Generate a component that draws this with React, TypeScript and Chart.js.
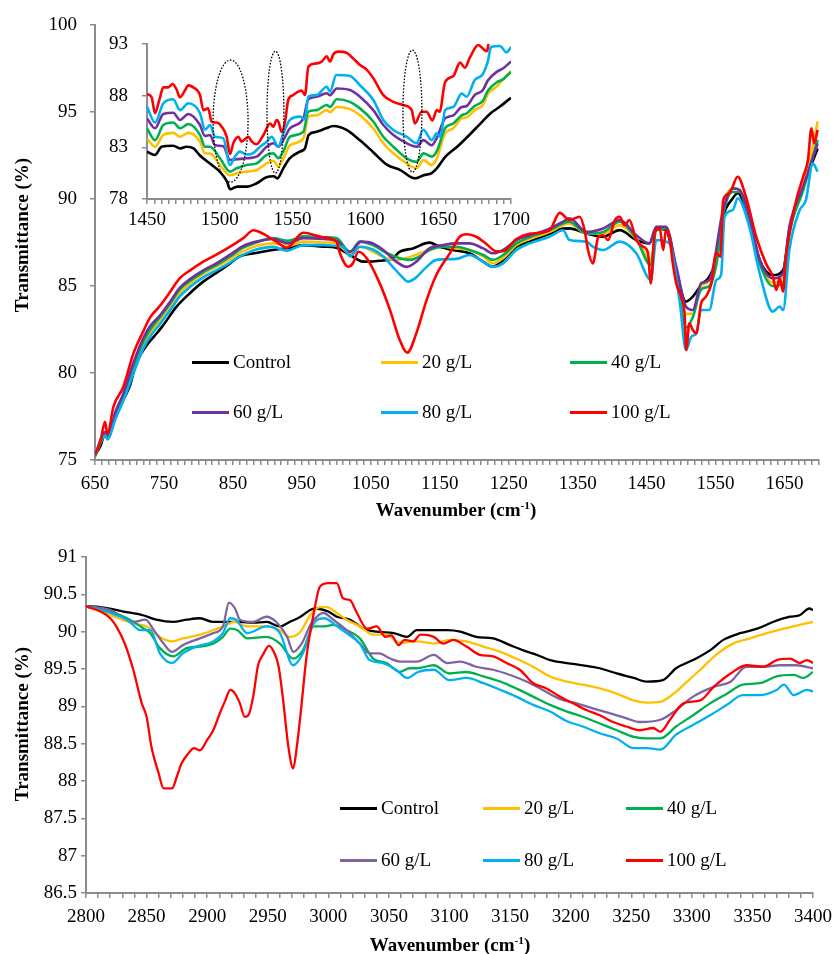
import React, { useEffect, useRef } from "react";
import { Chart, registerables } from "chart.js";

Chart.register(...registerables);

type Pt = [number, number];

// ---------- labels & colours ----------
const seriesLabels = ["Control", "20 g/L", "40 g/L", "60 g/L", "80 g/L", "100 g/L"];
const topColors = ["#000000", "#FFC000", "#00B050", "#7030A0", "#00B0F0", "#FF0000"];
const bottomColors = ["#000000", "#FFC000", "#00B050", "#8064A2", "#00B0F0", "#FF0000"];

// ---------- top panel (650-1700 cm-1) ----------
const mainControl: Pt[] = [[650,75.3],[658,75.8],[665,76.6],[672,76.7],[680,77.5],[691,78.45],[700,79.2],[710,80.6],[720,81.3],[727,81.7],[740,82.3],[749,82.75],[768,83.8],[788,84.6],[807,85.25],[826,85.75],[846,86.3],[860,86.7],[884,86.9],[908,87.07],[933,87.2],[952,87.35],[981,87.26],[1000,87.2],[1020,86.78],[1039,86.4],[1063,86.45],[1082,86.6],[1092,86.97],[1111,87.16],[1135,87.49],[1150,87.26],[1169,87.07],[1193,86.88],[1213,86.4],[1227,86.11],[1242,86.5],[1261,87.26],[1280,87.55],[1309,88.0],[1329,88.3],[1338,88.31],[1363,88.02],[1387,87.83],[1411,88.21],[1435,87.64],[1454,87.45],[1464,88.31],[1478,88.21],[1493,85.92],[1507,84.1],[1517,84.39],[1529,85.06],[1541,85.54],[1551,86.5],[1561,88.98],[1575,90.04],[1582,90.33],[1599,88.79],[1614,86.5],[1633,85.63],[1648,85.92],[1657,88.21],[1677,90.71],[1698,92.9]];
const main20: Pt[] = [[650,75.3],[665,76.5],[668,76.3],[680,77.6],[691,78.6],[705,80.1],[720,81.6],[730,82.3],[744,83.0],[759,83.8],[773,84.6],[788,85.15],[807,85.7],[826,86.1],[846,86.55],[865,87.0],[884,87.3],[908,87.45],[930,87.3],[952,87.55],[981,87.5],[1000,87.45],[1020,86.88],[1036,87.26],[1053,86.97],[1073,86.6],[1087,86.5],[1101,86.6],[1121,86.88],[1135,87.07],[1155,87.26],[1174,87.16],[1193,87.07],[1213,86.7],[1227,86.3],[1242,86.6],[1261,87.35],[1280,87.7],[1309,88.1],[1329,88.5],[1338,88.6],[1363,88.0],[1387,88.0],[1411,88.5],[1435,87.7],[1456,86.5],[1464,88.4],[1478,88.35],[1493,86.0],[1507,83.4],[1517,83.4],[1529,85.0],[1541,85.3],[1551,86.8],[1561,89.6],[1575,90.6],[1585,90.5],[1599,88.9],[1614,86.4],[1633,85.2],[1648,85.6],[1657,88.2],[1677,90.9],[1690,92.8],[1698,94.45]];
const main40: Pt[] = [[650,75.2],[665,76.4],[668,76.3],[680,77.7],[691,78.7],[705,80.3],[720,81.8],[730,82.5],[744,83.2],[759,84.0],[773,84.8],[788,85.3],[807,85.8],[826,86.2],[846,86.7],[865,87.2],[884,87.5],[908,87.75],[930,87.6],[952,87.85],[981,87.8],[1000,87.75],[1020,86.97],[1034,87.55],[1053,87.35],[1073,86.9],[1092,86.6],[1106,86.5],[1121,86.7],[1135,87.07],[1155,87.26],[1174,87.26],[1193,87.07],[1213,86.78],[1227,86.5],[1242,86.78],[1261,87.45],[1280,87.8],[1309,88.2],[1329,88.6],[1338,88.7],[1363,88.0],[1387,88.1],[1411,88.7],[1435,87.7],[1456,86.2],[1464,88.2],[1478,88.3],[1493,85.9],[1507,82.6],[1517,83.2],[1529,84.8],[1541,85.0],[1551,86.2],[1561,89.1],[1575,90.4],[1585,90.4],[1599,88.8],[1614,86.3],[1633,85.0],[1648,85.2],[1657,88.0],[1677,90.5],[1698,93.4]];
const main60: Pt[] = [[650,75.3],[665,76.6],[668,76.2],[680,77.8],[691,78.8],[705,80.5],[720,82.0],[730,82.7],[744,83.3],[759,84.1],[773,84.9],[788,85.4],[807,85.9],[826,86.3],[846,86.8],[865,87.3],[884,87.55],[908,87.7],[930,87.45],[952,87.75],[981,87.7],[1000,87.6],[1020,86.97],[1036,87.55],[1053,87.45],[1068,87.07],[1087,86.4],[1102,86.1],[1116,86.4],[1135,87.16],[1155,87.35],[1174,87.45],[1193,87.45],[1213,87.16],[1227,86.88],[1242,87.07],[1261,87.64],[1280,87.9],[1309,88.3],[1329,88.7],[1338,88.89],[1363,88.11],[1387,88.31],[1411,88.79],[1435,87.92],[1454,87.45],[1464,88.4],[1478,88.4],[1493,86.11],[1507,83.82],[1517,83.62],[1529,85.15],[1541,85.35],[1561,89.36],[1575,90.61],[1585,90.52],[1599,88.98],[1614,86.5],[1633,85.44],[1648,85.73],[1657,88.4],[1677,90.71],[1698,93.2]];
const main80: Pt[] = [[650,75.3],[665,76.4],[668,76.2],[680,77.4],[691,78.4],[705,79.9],[720,81.4],[730,82.1],[744,82.8],[759,83.6],[773,84.4],[788,84.95],[807,85.5],[826,85.9],[846,86.35],[865,86.8],[884,87.1],[908,87.25],[928,87.03],[952,87.35],[981,87.35],[1000,87.3],[1010,87.26],[1020,86.7],[1034,87.26],[1053,87.1],[1068,86.7],[1082,86.1],[1095,85.54],[1104,85.25],[1116,85.5],[1131,86.1],[1145,86.5],[1174,86.56],[1193,86.78],[1213,86.4],[1227,86.1],[1242,86.3],[1261,87.07],[1280,87.45],[1309,87.83],[1329,88.2],[1338,87.64],[1363,87.55],[1372,87.26],[1387,87.07],[1411,87.55],[1435,86.88],[1456,85.35],[1464,87.64],[1483,87.45],[1498,84.1],[1507,81.32],[1515,82.09],[1522,82.28],[1529,83.62],[1541,83.62],[1551,85.35],[1558,85.63],[1563,88.98],[1575,89.36],[1582,90.04],[1599,88.4],[1614,85.73],[1633,83.53],[1643,83.82],[1648,83.62],[1657,87.07],[1672,89.36],[1681,89.94],[1691,92.05],[1698,91.57]];
const main100: Pt[] = [[650,75.3],[658,76.1],[664.5,77.2],[668,76.5],[677,78.1],[691,79.2],[705.5,81.1],[720,82.4],[730,83.2],[744,83.85],[759,84.67],[773,85.45],[788,85.9],[807,86.4],[826,86.8],[846,87.26],[865,87.75],[880,88.2],[894,88.0],[913,87.55],[928,87.2],[952,88.06],[981,87.8],[1000,87.55],[1005,86.9],[1017,86.11],[1024,86.3],[1032,86.97],[1044,86.6],[1063,85.15],[1078,83.6],[1092,81.9],[1103,81.17],[1116,82.28],[1131,84.2],[1145,85.63],[1165,86.9],[1179,87.83],[1189,87.97],[1203,87.83],[1218,87.4],[1232,87.0],[1242,87.0],[1261,87.7],[1280,88.0],[1309,88.2],[1324,89.2],[1338,88.79],[1353,88.98],[1360,88.21],[1365,87.07],[1372,86.3],[1380,87.83],[1387,87.92],[1394,87.64],[1404,88.79],[1411,88.98],[1418,88.5],[1425,88.79],[1435,87.64],[1445,87.26],[1452,86.88],[1456,85.15],[1462,88.11],[1469,88.31],[1474,87.07],[1478,88.21],[1483,87.83],[1488,86.3],[1493,85.15],[1500,84.39],[1505,83.43],[1507.5,81.32],[1512,82.86],[1517,82.47],[1522,82.28],[1529,84.0],[1536,84.39],[1544,85.15],[1551,86.88],[1557,86.69],[1561,89.94],[1570,90.33],[1582,91.28],[1594,90.13],[1609,87.83],[1623,86.3],[1633,85.54],[1638,84.77],[1643,85.44],[1648,84.68],[1652,86.69],[1660,88.6],[1667,89.94],[1677,91.28],[1684,92.24],[1689,94.06],[1693,93.2],[1698,93.97]];

// ---------- inset (1450-1700 cm-1) ----------
const insetControl: Pt[] = [[1450,82.58],[1455.5,82.26],[1460,83.06],[1468,83.16],[1473,82.9],[1477,83.06],[1482,82.9],[1486,82.26],[1493,81.45],[1500,80.65],[1505,79.68],[1507,78.94],[1512,79.2],[1518.5,79.2],[1525,79.5],[1532,80.1],[1537,80.2],[1539.5,80.0],[1543.6,80.97],[1548,81.94],[1555,82.58],[1558.5,82.9],[1561,84.19],[1566.5,84.5],[1573,84.84],[1578,85.06],[1587,84.68],[1596,83.7],[1605,82.58],[1615,81.3],[1624,80.8],[1634,80.0],[1640,80.3],[1645.5,80.5],[1649,80.97],[1655,82.1],[1663,83.05],[1670,84.0],[1679,85.3],[1686,86.3],[1692,86.9],[1700,87.8]];
const inset20: Pt[] = [[1450,83.87],[1455.5,83.06],[1461.2,84.2],[1468,84.4],[1472.7,84.03],[1478.4,84.4],[1486.4,83.55],[1489.8,82.42],[1493.3,82.4],[1500.1,81.3],[1507,80.3],[1511.6,80.48],[1518.5,80.65],[1525.3,80.8],[1532.2,81.45],[1536.8,81.7],[1540.2,81.13],[1543.6,81.9],[1548.2,83.2],[1557.4,83.87],[1560.8,85.97],[1566.5,86.1],[1573.4,86.6],[1575.7,86.4],[1580.3,86.9],[1589.4,86.7],[1596.3,86.1],[1605.4,84.84],[1612.3,83.4],[1619.2,82.42],[1628.3,81.45],[1635.2,80.97],[1639.8,81.77],[1645.5,81.3],[1649,81.9],[1654.7,84.35],[1660.4,84.84],[1666.1,85.8],[1669.6,85.9],[1675,86.6],[1680.7,87.1],[1684.2,88.2],[1690.2,88.9],[1694.7,89.6],[1700,90.4]];
const inset40: Pt[] = [[1450,84.84],[1455.5,83.7],[1461.2,85.16],[1468,85.4],[1472.7,84.84],[1478.4,85.26],[1486.4,84.2],[1489.8,83.06],[1493.3,83.06],[1500.1,81.94],[1507,80.65],[1511.6,80.97],[1518.5,81.3],[1525.3,81.45],[1532.2,82.26],[1536.8,82.42],[1540.2,81.94],[1543.6,82.6],[1548.2,84.03],[1557.4,84.5],[1560.8,86.45],[1566.5,86.6],[1573.4,87.1],[1575.7,86.9],[1580.3,87.65],[1589.4,87.4],[1596.3,86.77],[1605.4,85.5],[1612.3,84.03],[1619.2,83.06],[1628.3,81.94],[1635.2,81.6],[1639.8,82.42],[1645.5,82.1],[1649,82.6],[1654.7,84.84],[1660.4,85.3],[1666.1,86.1],[1669.6,86.3],[1675,87.0],[1680.7,87.5],[1684.2,88.5],[1690.2,89.3],[1694.7,89.6],[1700,90.3]];
const inset60: Pt[] = [[1450,85.8],[1455.5,84.84],[1461.2,86.23],[1468,86.35],[1472.7,85.65],[1478.4,86.23],[1486.4,85.16],[1489.8,84.1],[1493.3,84.2],[1496.7,83.2],[1502.4,83.1],[1507,81.77],[1511.6,81.84],[1518.5,81.94],[1525.3,82.1],[1532.2,83.06],[1536.8,83.4],[1540.2,83.06],[1543.6,83.7],[1548.2,84.84],[1557.4,85.8],[1560.8,87.65],[1566.5,87.9],[1573.4,88.23],[1575.7,88.05],[1580.3,88.7],[1589.4,88.55],[1596.3,87.9],[1605.4,86.6],[1612.3,85.16],[1619.2,84.19],[1628.3,83.4],[1635.2,83.06],[1639.8,83.7],[1645.5,83.2],[1649,83.9],[1654.7,85.8],[1660.4,86.1],[1666.1,86.9],[1669.6,87.0],[1675,88.06],[1680.7,88.55],[1684.2,89.5],[1690.2,90.3],[1694.7,90.65],[1700,91.3]];
const inset80: Pt[] = [[1450,86.94],[1455.5,85.4],[1461.2,87.26],[1468,87.65],[1472.7,86.6],[1478.4,87.26],[1486.4,86.3],[1489.8,84.7],[1493.3,85.16],[1496.7,84.03],[1502.4,83.87],[1507,81.3],[1510.4,82.1],[1513.8,82.58],[1518.5,82.3],[1523,82.45],[1527.6,83.06],[1532.2,83.55],[1535.6,84.03],[1540.2,83.06],[1543.6,84.35],[1548.2,85.65],[1555,85.97],[1558.5,85.7],[1560.8,87.9],[1566.5,88.06],[1573.4,88.87],[1575.7,88.4],[1580,90.0],[1589.4,89.9],[1596.3,89.0],[1605.4,87.58],[1612.3,85.65],[1619.2,84.68],[1628.3,84.03],[1635.2,83.4],[1639.8,84.7],[1645.5,83.7],[1649,84.35],[1651.5,84.0],[1654.7,86.6],[1660.4,86.9],[1666.1,88.2],[1669.6,87.9],[1675,89.5],[1680.7,90.1],[1684.2,91.4],[1686.3,92.7],[1692.4,92.8],[1697,92.2],[1700,92.7]];
const inset100: Pt[] = [[1450,88.16],[1453.2,87.84],[1455.5,86.3],[1458.5,87.6],[1461.2,88.8],[1464.6,88.8],[1467.6,89.13],[1470.3,88.6],[1472.7,87.84],[1476,88.5],[1478.4,89.0],[1481.8,88.8],[1486.4,88.06],[1488.7,86.6],[1492,86.77],[1494.4,85.48],[1497.9,85.4],[1501.3,85.0],[1504.7,84.03],[1507,82.35],[1509.3,83.4],[1512.7,84.03],[1515,83.55],[1519.6,84.03],[1522,83.55],[1525.3,83.3],[1530,84.2],[1534.5,85.3],[1536.8,85.0],[1539,85.65],[1540.2,85.5],[1542.5,84.5],[1545,85.65],[1547,87.58],[1550.5,88.06],[1552.8,88.3],[1556.2,88.5],[1558.5,88.06],[1560.8,90.8],[1565.4,91.1],[1570,91.3],[1573.4,91.8],[1575.7,91.3],[1578,92.0],[1581.4,92.26],[1587,92.16],[1591.6,91.6],[1596.3,90.97],[1601,90.5],[1605.4,89.7],[1612.3,88.06],[1619.2,87.4],[1626,87.1],[1631.8,86.6],[1634,85.3],[1638.6,86.45],[1642,86.45],[1646,85.6],[1649,86.6],[1651,86.45],[1654.7,89.3],[1660.4,89.9],[1665,91.2],[1668.3,90.7],[1671.8,91.7],[1677.5,92.9],[1683.3,92.3],[1686,94.5]];

// dotted ellipses in the inset (data units)
const ellipseCenters = [1507.4, 1538.2, 1632.3];
const ellipseHalfWidths = [12, 5.8, 6.5];
const ellipseTops = [91.45, 92.3, 92.4];
const ellipseBottoms = [79.64, 80.5, 80.6];

// ---------- bottom panel (2800-3400 cm-1) ----------
const lowControl: Pt[] = [[2800,90.34],[2812,90.33],[2831,90.27],[2847,90.22],[2858,90.16],[2872,90.13],[2883,90.16],[2894,90.18],[2905,90.13],[2916,90.13],[2927,90.13],[2938,90.12],[2949,90.13],[2960,90.07],[2968,90.13],[2977,90.2],[2985,90.29],[2989,90.31],[3000,90.27],[3007,90.2],[3018,90.16],[3029,90.04],[3040,90.0],[3054,89.98],[3065,89.93],[3073,90.02],[3087,90.02],[3098,90.02],[3109,90.0],[3122,89.93],[3136,89.91],[3150,89.82],[3161,89.75],[3172,89.69],[3183,89.62],[3197,89.58],[3210,89.55],[3224,89.51],[3238,89.44],[3252,89.38],[3263,89.33],[3276,89.35],[3287,89.51],[3301,89.62],[3315,89.75],[3326,89.89],[3340,89.98],[3354,90.04],[3367,90.13],[3381,90.2],[3389,90.22],[3397,90.31],[3400,90.29]];
const low20: Pt[] = [[2800,90.34],[2820,90.22],[2839,90.11],[2850,90.07],[2861,89.93],[2871,89.87],[2880,89.91],[2894,89.96],[2905,90.02],[2916,90.09],[2922,90.13],[2933,90.07],[2949,90.07],[2960,90.02],[2968,89.93],[2977,90.0],[2985,90.22],[2993,90.33],[2999,90.33],[3007,90.25],[3015,90.16],[3026,90.07],[3037,89.96],[3048,89.96],[3059,89.85],[3073,89.87],[3087,89.84],[3100,89.89],[3114,89.87],[3128,89.8],[3142,89.73],[3155,89.64],[3169,89.53],[3183,89.4],[3197,89.33],[3210,89.29],[3224,89.24],[3238,89.17],[3252,89.08],[3263,89.05],[3274,89.06],[3285,89.17],[3296,89.33],[3307,89.49],[3320,89.69],[3334,89.84],[3348,89.91],[3362,89.98],[3376,90.04],[3389,90.09],[3400,90.13]];
const low40: Pt[] = [[2800,90.34],[2820,90.27],[2834,90.18],[2845,90.07],[2853,89.98],[2861,89.78],[2872,89.67],[2883,89.78],[2894,89.8],[2905,89.84],[2913,89.93],[2919,90.04],[2925,90.02],[2933,89.91],[2949,89.93],[2960,89.84],[2971,89.64],[2979,89.75],[2988,90.07],[2997,90.07],[3004,90.09],[3015,90.02],[3026,89.91],[3037,89.64],[3048,89.58],[3059,89.46],[3067,89.51],[3073,89.51],[3087,89.55],[3100,89.44],[3114,89.46],[3128,89.4],[3142,89.33],[3155,89.24],[3169,89.13],[3183,89.02],[3197,88.93],[3210,88.86],[3224,88.77],[3238,88.68],[3252,88.59],[3263,88.57],[3274,88.57],[3287,88.73],[3301,88.88],[3315,89.04],[3329,89.17],[3342,89.29],[3356,89.31],[3370,89.4],[3384,89.42],[3392,89.38],[3400,89.46]];
const low60: Pt[] = [[2800,90.34],[2820,90.29],[2839,90.13],[2849,90.16],[2856,90.02],[2864,89.84],[2871,89.73],[2880,89.82],[2894,89.91],[2905,89.98],[2913,90.07],[2918,90.39],[2923,90.31],[2927,90.16],[2938,90.13],[2949,90.2],[2957,90.13],[2966,89.93],[2971,89.73],[2978,89.84],[2986,90.11],[2996,90.25],[3004,90.16],[3015,90.02],[3026,89.84],[3034,89.71],[3042,89.71],[3051,89.64],[3059,89.6],[3073,89.6],[3087,89.69],[3098,89.58],[3109,89.6],[3122,89.53],[3136,89.49],[3150,89.42],[3164,89.33],[3177,89.22],[3191,89.1],[3205,89.04],[3219,88.97],[3232,88.91],[3246,88.84],[3257,88.79],[3274,88.82],[3287,88.95],[3301,89.13],[3318,89.26],[3332,89.33],[3345,89.53],[3359,89.53],[3373,89.55],[3386,89.55],[3400,89.51]];
const low80: Pt[] = [[2800,90.34],[2820,90.25],[2834,90.16],[2845,90.02],[2853,90.02],[2861,89.71],[2871,89.58],[2880,89.71],[2891,89.8],[2905,89.87],[2913,89.98],[2919,90.18],[2924,90.16],[2933,89.98],[2949,90.07],[2960,89.98],[2971,89.55],[2979,89.71],[2988,90.11],[2997,90.18],[3004,90.11],[3015,89.98],[3026,89.84],[3034,89.62],[3045,89.58],[3056,89.49],[3065,89.38],[3074,89.46],[3087,89.49],[3100,89.35],[3114,89.38],[3128,89.31],[3142,89.22],[3155,89.13],[3169,89.02],[3183,88.93],[3197,88.8],[3210,88.73],[3224,88.64],[3238,88.57],[3252,88.44],[3263,88.44],[3274,88.42],[3287,88.62],[3301,88.75],[3315,88.88],[3329,89.02],[3342,89.15],[3356,89.15],[3370,89.22],[3376,89.29],[3384,89.15],[3395,89.22],[3400,89.2]];
const low100: Pt[] = [[2800,90.34],[2812,90.27],[2820,90.18],[2825,90.07],[2832,89.84],[2839,89.49],[2846,89.04],[2850,88.86],[2854,88.46],[2860,88.1],[2864,87.9],[2871,87.9],[2875,88.06],[2879,88.24],[2885,88.38],[2889,88.44],[2894,88.41],[2900,88.55],[2905,88.68],[2911,88.93],[2915,89.08],[2919,89.22],[2923,89.17],[2927,89.04],[2931,88.86],[2934,88.88],[2938,89.13],[2942,89.55],[2946,89.69],[2951,89.81],[2955,89.73],[2959,89.53],[2963,89.04],[2967,88.46],[2971,88.17],[2974,88.46],[2978,89.04],[2982,89.67],[2988,90.25],[2993,90.6],[3000,90.65],[3007,90.65],[3012,90.45],[3018,90.42],[3023,90.27],[3032,90.04],[3040,90.07],[3047,89.93],[3052,89.95],[3058,89.82],[3063,89.89],[3070,89.87],[3076,89.96],[3087,89.93],[3095,89.84],[3103,89.89],[3114,89.8],[3125,89.69],[3136,89.67],[3147,89.58],[3158,89.49],[3169,89.31],[3180,89.24],[3191,89.13],[3202,89.04],[3213,88.95],[3224,88.88],[3235,88.79],[3246,88.73],[3257,88.68],[3268,88.71],[3274,88.66],[3282,88.82],[3293,89.04],[3307,89.08],[3318,89.26],[3332,89.44],[3345,89.55],[3359,89.53],[3370,89.62],[3381,89.64],[3389,89.58],[3395,89.62],[3400,89.58]];

const mainSeries = [mainControl, main20, main40, main60, main80, main100];
const insetSeries = [insetControl, inset20, inset40, inset60, inset80, inset100];
const lowSeries = [lowControl, low20, low40, low60, low80, low100];

// ---------- styling ----------
const FONT = "'Times New Roman', 'Liberation Serif', Times, serif";
const AXIS = "#8c8c8c";

function datasets(series: Pt[][], colors: string[], width: number) {
  return series.map((s, i) => ({
    label: seriesLabels[i],
    data: s.map(([x, y]) => ({ x, y })),
    borderColor: colors[i],
    backgroundColor: colors[i],
    borderWidth: width,
    pointRadius: 0,
    pointHoverRadius: 0,
    fill: false,
    cubicInterpolationMode: "monotone",
    order: series.length - 1 - i,
  }));
}

type AxisCfg = {
  xMin: number; xMax: number; xStep: number; xLabelEvery: number; labelLast: boolean;
  yMin: number; yMax: number; yStep: number;
  yFmt: (v: number) => string;
  yWidth: number; xHeight: number; padTop: number; padRight: number;
  yPad: number; xPad: number; tick: number;
};

function options(c: AxisCfg): any {
  const font = { family: FONT, size: 19 };
  const xLabel = (v: number) => {
    const k = (v - c.xMin) / c.xLabelEvery;
    const onGrid = Math.abs(k - Math.round(k)) < 1e-4;
    const isLast = Math.abs(v - c.xMax) < 1e-4;
    if (!onGrid) return "";
    if (isLast && !c.labelLast) return "";
    return String(Math.round(v));
  };
  return {
    responsive: false,
    animation: false,
    devicePixelRatio: 1,
    layout: { padding: { top: c.padTop, right: c.padRight, left: 0, bottom: 0 } },
    plugins: { legend: { display: false }, tooltip: { enabled: false }, title: { display: false } },
    events: [],
    scales: {
      x: {
        type: "linear",
        min: c.xMin,
        max: c.xMax,
        ticks: {
          stepSize: c.xStep,
          autoSkip: false,
          maxRotation: 0,
          minRotation: 0,
          padding: c.xPad,
          color: "#000",
          font,
          callback: (v: number) => xLabel(v),
        },
        grid: { display: true, drawOnChartArea: false, drawTicks: true, tickLength: c.tick, color: AXIS, lineWidth: 1.5 },
        border: { display: true, color: AXIS, width: 2 },
        afterFit: (s: any) => { s.height = c.xHeight; s.paddingLeft = 0; s.paddingRight = 0; },
      },
      y: {
        type: "linear",
        min: c.yMin,
        max: c.yMax,
        ticks: { stepSize: c.yStep, padding: c.yPad, color: "#000", font, callback: (v: number) => c.yFmt(v) },
        grid: { display: true, drawOnChartArea: false, drawTicks: true, tickLength: c.tick, color: AXIS, lineWidth: 1.5 },
        border: { display: true, color: AXIS, width: 2 },
        afterFit: (s: any) => { s.width = c.yWidth; s.paddingTop = 0; s.paddingBottom = 0; },
      },
    },
  };
}

const ellipsePlugin = {
  id: "ellipses",
  afterDatasetsDraw(chart: any) {
    const { ctx, scales } = chart;
    const xs = scales.x, ys = scales.y;
    ctx.save();
    ctx.setLineDash([1.6, 1.6]);
    ctx.lineWidth = 1.3;
    ctx.strokeStyle = "#000";
    for (let i = 0; i < ellipseCenters.length; i++) {
      const cx = xs.getPixelForValue(ellipseCenters[i]);
      const rx = Math.abs(xs.getPixelForValue(ellipseCenters[i] + ellipseHalfWidths[i]) - cx);
      const yt = ys.getPixelForValue(ellipseTops[i]);
      const yb = ys.getPixelForValue(ellipseBottoms[i]);
      ctx.beginPath();
      ctx.ellipse(cx, (yt + yb) / 2, rx, Math.abs(yb - yt) / 2, 0, 0, Math.PI * 2);
      ctx.stroke();
    }
    ctx.restore();
  },
};

function ChartCanvas(props: { left: number; top: number; width: number; height: number; make: () => any }) {
  const ref = useRef<HTMLCanvasElement | null>(null);
  useEffect(() => {
    if (!ref.current) return;
    const chart = new Chart(ref.current, props.make());
    return () => chart.destroy();
  }, []);
  return (
    <canvas
      ref={ref}
      width={props.width}
      height={props.height}
      style={{ position: "absolute", left: props.left, top: props.top, width: props.width, height: props.height }}
    />
  );
}

function Legend(props: { rows: number[]; cols: number[]; colors: string[] }) {
  const items: any[] = [];
  seriesLabels.forEach((lab, i) => {
    const r = Math.floor(i / 3), cidx = i % 3;
    items.push(
      <div
        key={lab}
        style={{
          position: "absolute", left: props.cols[cidx], top: props.rows[r] - 13, height: 26,
          display: "flex", alignItems: "center", whiteSpace: "nowrap",
          fontFamily: FONT, fontSize: 19, color: "#000",
        }}
      >
        <span style={{ display: "inline-block", width: 37, height: 3, background: props.colors[i], marginRight: 4 }} />
        <span style={{ lineHeight: "26px" }}>{lab}</span>
      </div>
    );
  });
  return <>{items}</>;
}

function XTitle(props: { cx: number; cy: number }) {
  return (
    <div style={{ position: "absolute", left: props.cx, top: props.cy, transform: "translate(-50%, -50%)", whiteSpace: "nowrap", fontFamily: FONT, fontWeight: "bold", fontSize: 19, color: "#000" }}>
      Wavenumber (cm<sup style={{ fontSize: "0.6em", verticalAlign: "0.6em", lineHeight: 0 }}>-1</sup>)
    </div>
  );
}

function YTitle(props: { cx: number; cy: number }) {
  return (
    <div style={{ position: "absolute", left: props.cx, top: props.cy, transform: "translate(-50%, -50%) rotate(-90deg)", whiteSpace: "nowrap", fontFamily: FONT, fontWeight: "bold", fontSize: 19, color: "#000" }}>
      Transmittance (%)
    </div>
  );
}

export default function App() {
  const makeMain = () => ({
    type: "line",
    data: { datasets: datasets(mainSeries, topColors, 2.6) },
    options: options({
      xMin: 650, xMax: 1700, xStep: 10, xLabelEvery: 100, labelLast: false,
      yMin: 75, yMax: 100, yStep: 5, yFmt: (v) => String(v),
      yWidth: 95, xHeight: 70, padTop: 25, padRight: 16, yPad: 13, xPad: 8, tick: 5,
    }),
  });
  const makeInset = () => ({
    type: "line",
    data: { datasets: datasets(insetSeries, topColors, 2.6) },
    options: options({
      xMin: 1450, xMax: 1700, xStep: 5, xLabelEvery: 50, labelLast: true,
      yMin: 78, yMax: 93, yStep: 5, yFmt: (v) => String(v),
      yWidth: 47, xHeight: 31, padTop: 14, padRight: 49, yPad: 14, xPad: 5, tick: 5,
    }),
    plugins: [ellipsePlugin],
  });
  const makeLow = () => ({
    type: "line",
    data: { datasets: datasets(lowSeries, bottomColors, 2.3) },
    options: options({
      xMin: 2800, xMax: 3400, xStep: 10, xLabelEvery: 50, labelLast: true,
      yMin: 86.5, yMax: 91, yStep: 0.5, yFmt: (v) => (Number.isInteger(v) ? String(v) : v.toFixed(1)),
      yWidth: 86, xHeight: 61, padTop: 27, padRight: 22, yPad: 4, xPad: 8, tick: 5,
    }),
  });

  return (
    <div style={{ position: "absolute", left: 0, top: 0, width: 835, height: 954, background: "#fff", overflow: "hidden" }}>
      <ChartCanvas left={0} top={0} width={835} height={530} make={makeMain} />
      <ChartCanvas left={100} top={30} width={460} height={200} make={makeInset} />
      <ChartCanvas left={0} top={530} width={835} height={424} make={makeLow} />
      <Legend rows={[362, 412]} cols={[192, 381, 570]} colors={topColors} />
      <Legend rows={[808, 860]} cols={[340, 483, 626]} colors={bottomColors} />
      <YTitle cx={22} cy={235} />
      <XTitle cx={456} cy={510} />
      <YTitle cx={22} cy={724} />
      <XTitle cx={450} cy={945} />
    </div>
  );
}
